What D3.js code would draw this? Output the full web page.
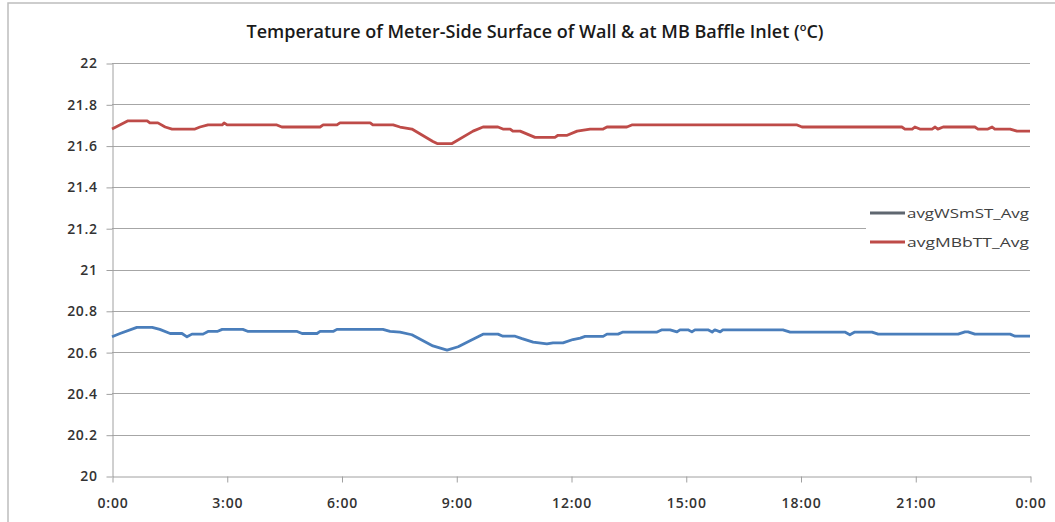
<!DOCTYPE html>
<html>
<head>
<meta charset="utf-8">
<script src="https://cdn.jsdelivr.net/npm/d3@7"></script>
<style>
  html, body { margin: 0; padding: 0; background: #fff; }
  svg { display: block; }
</style>
</head>
<body>
<svg id="chart" width="1055" height="522"></svg>
<script>
// ---- data ----
const title = "Temperature of Meter-Side Surface of Wall & at MB Baffle Inlet (";
const seriesNames = ["avgWSmST_Avg", "avgMBbTT_Avg"];
const xTickValues = [0, 3, 6, 9, 12, 15, 18, 21, 24];
const xTickLabels = ["0:00", "3:00", "6:00", "9:00", "12:00", "15:00", "18:00", "21:00", "0:00"];
const yTickValues = [20, 20.2, 20.4, 20.6, 20.8, 21, 21.2, 21.4, 21.6, 21.8, 22];
const yTickLabels = ["20", "20.2", "20.4", "20.6", "20.8", "21", "21.2", "21.4", "21.6", "21.8", "22"];

// avgWSmST_Avg (blue) — hours / values
const wsmHours = [0, 0.21, 0.65, 1.05, 1.25, 1.52, 1.83, 1.96, 2.09, 2.38, 2.51, 2.75, 2.88, 3.42, 3.56,
  4.84, 4.97, 5.36, 5.44, 5.78, 5.88, 7.08, 7.27, 7.53, 7.84, 8.39, 8.76, 9.05, 9.36, 9.70, 10.09,
  10.22, 10.54, 10.72, 11.01, 11.37, 11.53, 11.79, 12.05, 12.24, 12.37, 12.84, 12.94, 13.23, 13.36,
  14.25, 14.38, 14.59, 14.77, 14.85, 15.06, 15.16, 15.24, 15.58, 15.69, 15.76, 15.90, 15.97, 17.54,
  17.73, 19.16, 19.29, 19.42, 19.87, 20.03, 22.12, 22.30, 22.38, 22.56, 23.48, 23.61, 24];
const wsmValues = [20.674, 20.69, 20.72, 20.72, 20.71, 20.69, 20.69, 20.674, 20.687, 20.687, 20.70, 20.70, 20.71, 20.71, 20.70,
  20.70, 20.69, 20.69, 20.70, 20.70, 20.71, 20.71, 20.70, 20.697, 20.684, 20.63, 20.61, 20.626, 20.655, 20.687, 20.687,
  20.677, 20.677, 20.665, 20.648, 20.64, 20.645, 20.645, 20.661, 20.668, 20.676, 20.676, 20.687, 20.687, 20.697,
  20.697, 20.708, 20.708, 20.698, 20.708, 20.708, 20.698, 20.708, 20.708, 20.697, 20.708, 20.698, 20.708, 20.708,
  20.697, 20.697, 20.684, 20.697, 20.697, 20.687, 20.687, 20.698, 20.698, 20.687, 20.687, 20.677, 20.677];

// avgMBbTT_Avg (red) — hours / values
const mbbHours = [0, 0.42, 0.92, 0.99, 1.20, 1.39, 1.57, 2.17, 2.30, 2.51, 2.88, 2.93, 3.01, 4.31, 4.44,
  5.44, 5.52, 5.88, 5.96, 6.75, 6.82, 7.35, 7.53, 7.84, 8.39, 8.50, 8.89, 9.44, 9.70, 10.09, 10.22,
  10.41, 10.48, 10.67, 11.06, 11.58, 11.66, 11.90, 12.16, 12.50, 12.84, 12.94, 13.46, 13.59, 17.91,
  18.04, 20.65, 20.73, 20.92, 20.99, 21.12, 21.44, 21.52, 21.59, 21.73, 22.56, 22.64, 22.90, 23.01,
  23.08, 23.48, 23.66, 24];
const mbbValues = [21.68, 21.72, 21.72, 21.71, 21.71, 21.69, 21.68, 21.68, 21.69, 21.70, 21.70, 21.71, 21.70, 21.70, 21.69,
  21.69, 21.70, 21.70, 21.71, 21.71, 21.70, 21.70, 21.69, 21.68, 21.62, 21.61, 21.61, 21.67, 21.69, 21.69, 21.68,
  21.68, 21.67, 21.67, 21.64, 21.64, 21.65, 21.65, 21.67, 21.68, 21.68, 21.69, 21.69, 21.70, 21.70,
  21.69, 21.69, 21.68, 21.68, 21.69, 21.68, 21.68, 21.69, 21.68, 21.69, 21.69, 21.68, 21.68, 21.69,
  21.68, 21.68, 21.67, 21.67];

// ---- drawing ----
const svg = d3.select("#chart");
const FONT = "'Open Sans', 'Liberation Sans', sans-serif";

// outer chart border
svg.append("rect").attr("x", 8).attr("y", 3).attr("width", 1060).attr("height", 530)
  .attr("fill", "#fff").attr("stroke", "#bdbdbd").attr("stroke-width", 1.5);

const x = d3.scaleLinear().domain([0, 24]).range([112, 1030]);
const y = d3.scaleLinear().domain([20, 22]).range([476, 63]);

// gridlines
svg.append("g").selectAll("line").data(yTickValues.filter(v => v > 20)).join("line")
  .attr("x1", x(0)).attr("x2", x(24))
  .attr("y1", d => Math.round(y(d)) + 0.5).attr("y2", d => Math.round(y(d)) + 0.5)
  .attr("stroke", "#a6a6a6").attr("stroke-width", 1);

// y axis
const yAxis = d3.axisLeft(y).tickValues(yTickValues)
  .tickFormat((d, i) => yTickLabels[i]).tickSize(6).tickPadding(9).tickSizeOuter(0);
const gy = svg.append("g").attr("transform", "translate(112.5,0.5)").call(yAxis);
gy.select(".domain").attr("stroke", "#a0a0a0");
gy.selectAll(".tick line").attr("stroke", "#a0a0a0");
gy.selectAll(".tick text").attr("font-family", FONT).attr("font-size", 14)
  .attr("font-weight", 600).attr("fill", "#333").attr("letter-spacing", 0.6);

// x axis
const xAxis = d3.axisBottom(x).tickValues(xTickValues)
  .tickFormat((d, i) => xTickLabels[i]).tickSize(6).tickPadding(16).tickSizeOuter(0);
const gx = svg.append("g").attr("transform", "translate(0.5,476.5)").call(xAxis);
gx.select(".domain").attr("stroke", "#a0a0a0");
gx.selectAll(".tick line").attr("stroke", "#a0a0a0");
gx.selectAll(".tick text").attr("font-family", FONT).attr("font-size", 14)
  .attr("font-weight", 600).attr("fill", "#333").attr("letter-spacing", 0.8);

// lines
const line = d3.line().x(d => x(d[0])).y(d => y(d[1]));
const wsm = wsmHours.map((h, i) => [h, wsmValues[i]]);
const mbb = mbbHours.map((h, i) => [h, mbbValues[i]]);
svg.append("path").datum(wsm).attr("d", line).attr("fill", "none")
  .attr("stroke", "#4a7ebb").attr("stroke-width", 2.8).attr("stroke-linejoin", "round");
svg.append("path").datum(mbb).attr("d", line).attr("fill", "none")
  .attr("stroke", "#be4b48").attr("stroke-width", 2.8).attr("stroke-linejoin", "round");

// title
const t = svg.append("text").attr("x", 535).attr("y", 38).attr("text-anchor", "middle")
  .attr("font-family", FONT).attr("font-size", 18).attr("font-weight", 600).attr("fill", "#1a1a1a");
t.append("tspan").text(title);
t.append("tspan").attr("font-size", 11).attr("dy", -7).text("o");
t.append("tspan").attr("dy", 7).text("C)");

// legend
const lg = svg.append("g");
lg.append("rect").attr("x", 866).attr("y", 196).attr("width", 174).attr("height", 64).attr("fill", "#fff");
const legendColors = ["#5f6770", "#be4b48"];
const legendY = [213, 242];
seriesNames.forEach((n, i) => {
  lg.append("line").attr("x1", 870).attr("x2", 905).attr("y1", legendY[i]).attr("y2", legendY[i])
    .attr("stroke", legendColors[i]).attr("stroke-width", 2.8);
  lg.append("text").attr("x", 907).attr("y", legendY[i] + 5).text(n)
    .attr("font-family", FONT).attr("font-size", 13).attr("fill", "#404040")
    .attr("textLength", 122).attr("lengthAdjust", "spacingAndGlyphs");
});
</script>
</body>
</html>
